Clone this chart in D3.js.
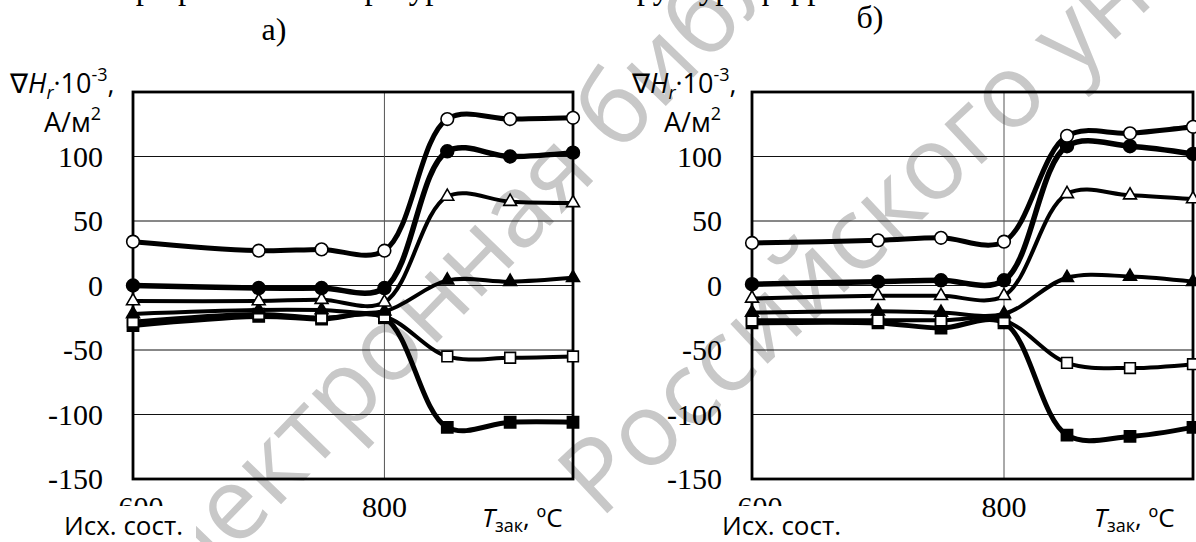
<!DOCTYPE html>
<html lang="ru">
<head>
<meta charset="utf-8">
<title>Градиент поля</title>
<style>
  body { margin: 0; background: #fff; }
  svg { display: block; }
</style>
<script src="https://d3js.org/d3.v7.min.js"></script>
</head>
<body>
<svg id="chart" width="1196" height="542"></svg>
<script>
// temperatures (600 = initial state)
var temps = [600, 700, 750, 800, 850, 900, 950];
var yTicks = [-150, -100, -50, 0, 50, 100];
var gridY = [-100, -50, 0, 50, 100];
var xTicks = [600, 800];
var seriesKeys = ['openCircle', 'fullCircle', 'openTri', 'fullTri', 'openSq', 'fullSq'];

// panel а)
var a_openCircle = [34, 27, 28, 27, 129, 129, 130];
var a_fullCircle = [0, -2, -2, -2, 104, 100, 103];
var a_openTri = [-12, -12, -11, -13, 69, 65, 64];
var a_fullTri = [-22, -19, -19, -20, 4, 3, 6];
var a_openSq = [-28, -22, -25, -24, -55, -56, -55];
var a_fullSq = [-31, -24, -26, -25, -110, -106, -106];

// panel б)
var b_openCircle = [33, 35, 37, 34, 116, 118, 123];
var b_fullCircle = [1, 3, 4, 4, 108, 108, 102];
var b_openTri = [-10, -8, -8, -8, 71, 70, 67];
var b_fullTri = [-21, -20, -21, -22, 6, 7, 3];
var b_openSq = [-27, -27, -27, -27, -60, -64, -61];
var b_fullSq = [-29, -29, -33, -29, -116, -117, -110];

var SERIF = "'Liberation Serif', 'DejaVu Serif', serif";
var SANS = "'Open Sans', 'Noto Sans', sans-serif";

var svg = d3.select('#chart');

// watermark, behind everything
var wm = svg.append('g').attr('fill', '#c8c8c8')
  .style('font-family', SANS).style('font-size', '102px');
wm.append('text').attr('transform', 'translate(150,640) rotate(-46)').text('Электронная библиотека');
wm.append('text').attr('transform', 'translate(600,520) rotate(-43)').text('Российского университета');

// cut-off line of text above the charts
svg.append('text').attr('x', 118).attr('y', -1)
  .style('font-family', SERIF).style('font-size', '33px')
  .text('при разной температуре закалки и структуре ферромагнетика');

var styles = {
  openCircle: { type: d3.symbolCircle, size: 125, fill: '#fff', w: 5 },
  fullCircle: { type: d3.symbolCircle, size: 130, fill: '#000', w: 5.5 },
  openTri: { type: d3.symbolTriangle, size: 72, fill: '#fff', w: 4 },
  fullTri: { type: d3.symbolTriangle, size: 72, fill: '#000', w: 4 },
  openSq: { type: d3.symbolSquare, size: 115, fill: '#fff', w: 4 },
  fullSq: { type: d3.symbolSquare, size: 125, fill: '#000', w: 5 }
};

var panels = [
  { tag: 'а)', left: 133, right: 573, tagX: 274, tagY: 40, titleX: 10, unitX: 101, xsX: 64, txX: 482,
    data: { openCircle: a_openCircle, fullCircle: a_fullCircle, openTri: a_openTri, fullTri: a_fullTri, openSq: a_openSq, fullSq: a_fullSq } },
  { tag: 'б)', left: 752, right: 1193, tagX: 870, tagY: 28, titleX: 632, unitX: 721, xsX: 722, txX: 1094,
    data: { openCircle: b_openCircle, fullCircle: b_fullCircle, openTri: b_openTri, fullTri: b_fullTri, openSq: b_openSq, fullSq: b_fullSq } }
];

var plotTop = 92, plotBottom = 479;

panels.forEach(function (p) {
  var x = d3.scaleLinear().domain([600, 950]).range([p.left, p.right]);
  var y = d3.scaleLinear().domain([-150, 150]).range([plotBottom, plotTop]);
  var g = svg.append('g');

  // grid
  g.selectAll('.gy').data(gridY).enter().append('line')
    .attr('x1', p.left).attr('x2', p.right)
    .attr('y1', function (d) { return y(d); }).attr('y2', function (d) { return y(d); })
    .attr('stroke', '#111').attr('stroke-width', 1);
  g.selectAll('.gx').data([800]).enter().append('line')
    .attr('x1', function (d) { return x(d); }).attr('x2', function (d) { return x(d); })
    .attr('y1', plotTop).attr('y2', plotBottom)
    .attr('stroke', '#555').attr('stroke-width', 1);

  // frame
  g.append('rect').attr('x', p.left).attr('y', plotTop)
    .attr('width', p.right - p.left).attr('height', plotBottom - plotTop)
    .attr('fill', 'none').attr('stroke', '#000').attr('stroke-width', 2.8);

  // y tick labels
  g.selectAll('.yl').data(yTicks).enter().append('text')
    .style('font-family', SERIF).style('font-size', '30px')
    .attr('text-anchor', 'end')
    .attr('x', p.left - 30).attr('y', function (d) { return y(d) + 10; })
    .text(function (d) { return d; });

  // x tick labels
  g.selectAll('.xl').data(xTicks).enter().append('text')
    .style('font-family', SERIF).style('font-size', '30px')
    .attr('text-anchor', 'middle')
    .attr('x', function (d) { return x(d) + (d === 600 ? 8 : 0); }).attr('y', 517)
    .text(function (d) { return d; });

  // series
  var line = d3.line()
    .x(function (d, i) { return x(temps[i]); })
    .y(function (d) { return y(d); })
    .curve(d3.curveCatmullRom.alpha(0.5));

  seriesKeys.slice().reverse().forEach(function (k) {
    g.append('path').attr('d', line(p.data[k]))
      .attr('fill', 'none').attr('stroke', '#000')
      .attr('stroke-width', styles[k].w).attr('stroke-linejoin', 'round');
  });
  seriesKeys.slice().reverse().forEach(function (k) {
    var s = styles[k];
    var sym = d3.symbol().type(s.type).size(s.size);
    g.selectAll(null).data(p.data[k]).enter().append('path')
      .attr('d', sym)
      .attr('transform', function (d, i) { return 'translate(' + x(temps[i]) + ',' + y(d) + ')'; })
      .attr('fill', s.fill).attr('stroke', '#000').attr('stroke-width', 1.6);
  });

  // panel tag
  g.append('text').style('font-family', SERIF).style('font-size', '32px')
    .attr('text-anchor', 'middle').attr('x', p.tagX).attr('y', p.tagY).text(p.tag);

  // y axis title
  var t = g.append('text').style('font-family', SANS).style('font-size', '27px')
    .attr('x', p.titleX).attr('y', 93);
  t.append('tspan').text('∇');
  t.append('tspan').style('font-style', 'italic').text('H');
  t.append('tspan').style('font-style', 'italic').style('font-size', '18px').attr('dy', 6).text('r');
  t.append('tspan').attr('dy', -6).text('·10');
  t.append('tspan').style('font-size', '18px').attr('dy', -12).text('-3');
  t.append('tspan').attr('dy', 12).text(',');

  var u = g.append('text').style('font-family', SANS).style('font-size', '27px')
    .attr('text-anchor', 'end').attr('x', p.unitX).attr('y', 132);
  u.append('tspan').text('А/м');
  u.append('tspan').style('font-size', '18px').attr('dy', -12).text('2');

  // x axis captions
  var xs = g.append('g');
  xs.append('rect').attr('x', p.xsX - 4).attr('y', 506).attr('width', 136).attr('height', 36).attr('fill', '#fff');
  xs.append('text').style('font-family', SANS).style('font-size', '26px')
    .attr('x', p.xsX).attr('y', 535).text('Исх. сост.');

  var tx = g.append('text').style('font-family', SANS).style('font-size', '26px')
    .attr('x', p.txX).attr('y', 527);
  tx.append('tspan').style('font-style', 'italic').text('T');
  tx.append('tspan').style('font-size', '18px').attr('dy', 5).text('зак');
  tx.append('tspan').attr('dy', -5).text(', ºC');
});
</script>
</body>
</html>
